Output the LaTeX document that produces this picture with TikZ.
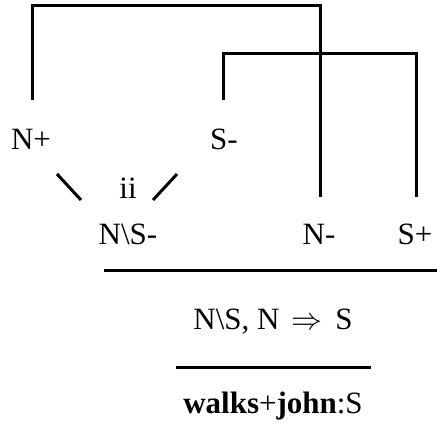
\RequirePackage{fix-cm}
\documentclass[tikz,border=0pt]{standalone}
\usepackage{fontspec}
\setmainfont{Liberation Serif}
\usetikzlibrary{calc}

\begin{document}
\begin{tikzpicture}[x=1pt,y=-1pt,line width=3pt,
    lbl/.style={anchor=base,inner sep=0pt,font=\fontsize{31}{37}\selectfont}]

            \useasboundingbox (0,0) rectangle (437,426);

            \node[lbl] (Np) at (31,149) {N+};
            \node[lbl] (Sm) at (224,149) {S-};
            \node[lbl] (ii) at (128,198) {ii};
            \node[lbl] (NSm) at (128,244) {N\textbackslash S-};
            \node[lbl] (Nm) at (319,244) {N-};
            \node[lbl] (Sp) at (415,244) {S+};
            \node[lbl] (seq) at (273,329) {N\textbackslash S, N\hspace{0.4em}$\Rightarrow$\hspace{0.4em}S};
            \node[lbl] (res) at (273,413) {\textbf{walks}+\textbf{john}:S};

            % axiom links
            \draw ($(Np.base)+(1,-49)$) |- ($(Nm.base)+(1,-239)$) -- ($(Nm.base)+(1,-47)$);
            \draw ($(Sm.base)+(-1,-49)$) |- ($(Sp.base)+(1,-191)$) -- ($(Sp.base)+(1,-47)$);

            % ii link
            \draw ($(Np.base)+(26,25)$) -- ($(NSm.base)+(-47,-44)$);
            \draw ($(NSm.base)+(25,-44)$) -- ($(Sm.base)+(-47,25)$);

            % rule lines
            \draw ($(NSm.base)+(-24,26)$) -- ($(Sp.base)+(22,26)$);
            \draw ($(seq.base)+(-97,38)$) -- ($(seq.base)+(98,38)$);

            ;
        \end{tikzpicture}
\end{document}
